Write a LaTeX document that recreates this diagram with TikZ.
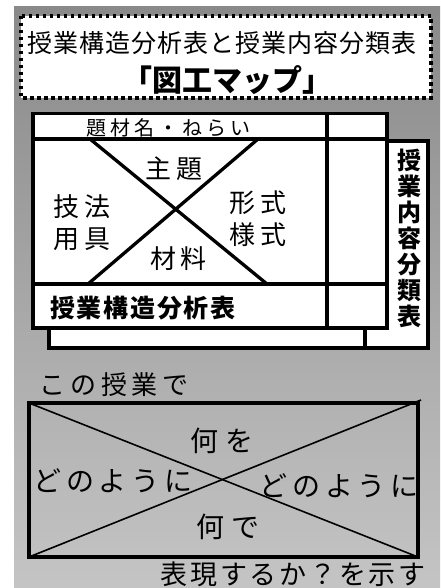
\documentclass[tikz,border=0pt]{standalone}
\usepackage{fontspec}
\setmainfont{Noto Sans CJK JP}
\definecolor{gtop}{gray}{0.54}
\definecolor{gbot}{gray}{0.77}
\newcommand\jtxt[3]{\fontsize{#1}{#1}\selectfont\addfontfeature{LetterSpace=#2}#3\kern-\dimexpr #1pt*#2/200\relax}
\tikzset{
  jt/.style={inner sep=0pt, outer sep=0pt},
  thick3/.style={line width=3.3pt},
  boxw/.style={line width=3.3pt, fill=white},
}
\begin{document}
\begin{tikzpicture}[x=1pt,y=-1pt]
\useasboundingbox (0,0) rectangle (440,588);
\shade[top color=gtop,bottom color=gbot] (14,7) rectangle (440,588);
% title box
\draw[line width=3.5pt, dash pattern=on 3.5pt off 3.5pt, fill=white] (21,16) rectangle (431,98);
\node[jt] (t1) at (222,43) {\jtxt{25}{4}{授業構造分析表と授業内容分類表}};
\node[jt] (t2) at (227,80) {\bfseries\jtxt{30}{0}{「図工マップ」}};
% boxes behind
\draw[boxw] (49,150) rectangle (365,348);
\draw[boxw] (365,141) rectangle (428,348);
% main box
\draw[boxw] (33,113.5) rectangle (387,328);
\coordinate (vt) at (327,113.5);
\coordinate (vb) at (327,328);
\draw[thick3] (vt) -- (vb);
\coordinate (h1l) at (33,139);
\coordinate (h1r) at (387,139);
\coordinate (h2l) at (33,284);
\coordinate (h2r) at (387,284);
\draw[thick3] (h1l) -- (h1r);
\draw[thick3] (h2l) -- (h2r);
\coordinate (xa) at (90,139);
\coordinate (xb) at (267,284);
\coordinate (xc) at (258,139);
\coordinate (xd) at (88,284);
\draw[thick3] (xa) -- (xb);
\draw[thick3] (xc) -- (xd);
\node[jt] (n1) at (167.5,128) {\jtxt{20}{20}{題材名・ねらい}};
\node[jt] (n2) at (173,169) {\jtxt{26}{18}{主題}};
\node[jt] (n3) at (81,207) {\jtxt{26}{18}{技法}};
\node[jt] (n4) at (81,239) {\jtxt{26}{18}{用具}};
\node[jt] (n5) at (257,203) {\jtxt{26}{18}{形式}};
\node[jt] (n6) at (257,235) {\jtxt{26}{18}{様式}};
\node[jt] (n7) at (177.5,259) {\jtxt{26}{18}{材料}};
\node[jt] (n8) at (142.5,308) {\bfseries\jtxt{25}{7}{授業構造分析表}};
\node[jt, align=center, font=\bfseries\fontsize{24}{26}\selectfont] (n9) at (409,238.5) {授\\業\\内\\容\\分\\類\\表};
% lower part
\node[jt] (l1) at (113,385) {\jtxt{26}{18}{この授業で}};
\coordinate (ba) at (29,403);
\coordinate (bb) at (418,557);
\draw[line width=4pt] (ba) rectangle (bb);
\coordinate (da) at (29,557);
\coordinate (db) at (421,400);
\draw[line width=1.6pt] (ba) -- (bb);
\draw[line width=1.6pt] (da) -- (db);
\node[jt] (l2) at (220,441) {\jtxt{28}{24}{何を}};
\node[jt] (l3) at (111.7,481) {\jtxt{28}{17}{どのように}};
\node[jt] (l4) at (338,486) {\jtxt{28}{17}{どのように}};
\node[jt] (l5) at (226,527) {\jtxt{28}{28}{何で}};
\node[jt] (l6) at (292.5,574) {\jtxt{27}{10}{表現するか？を示す}};
\end{tikzpicture}
\end{document}
